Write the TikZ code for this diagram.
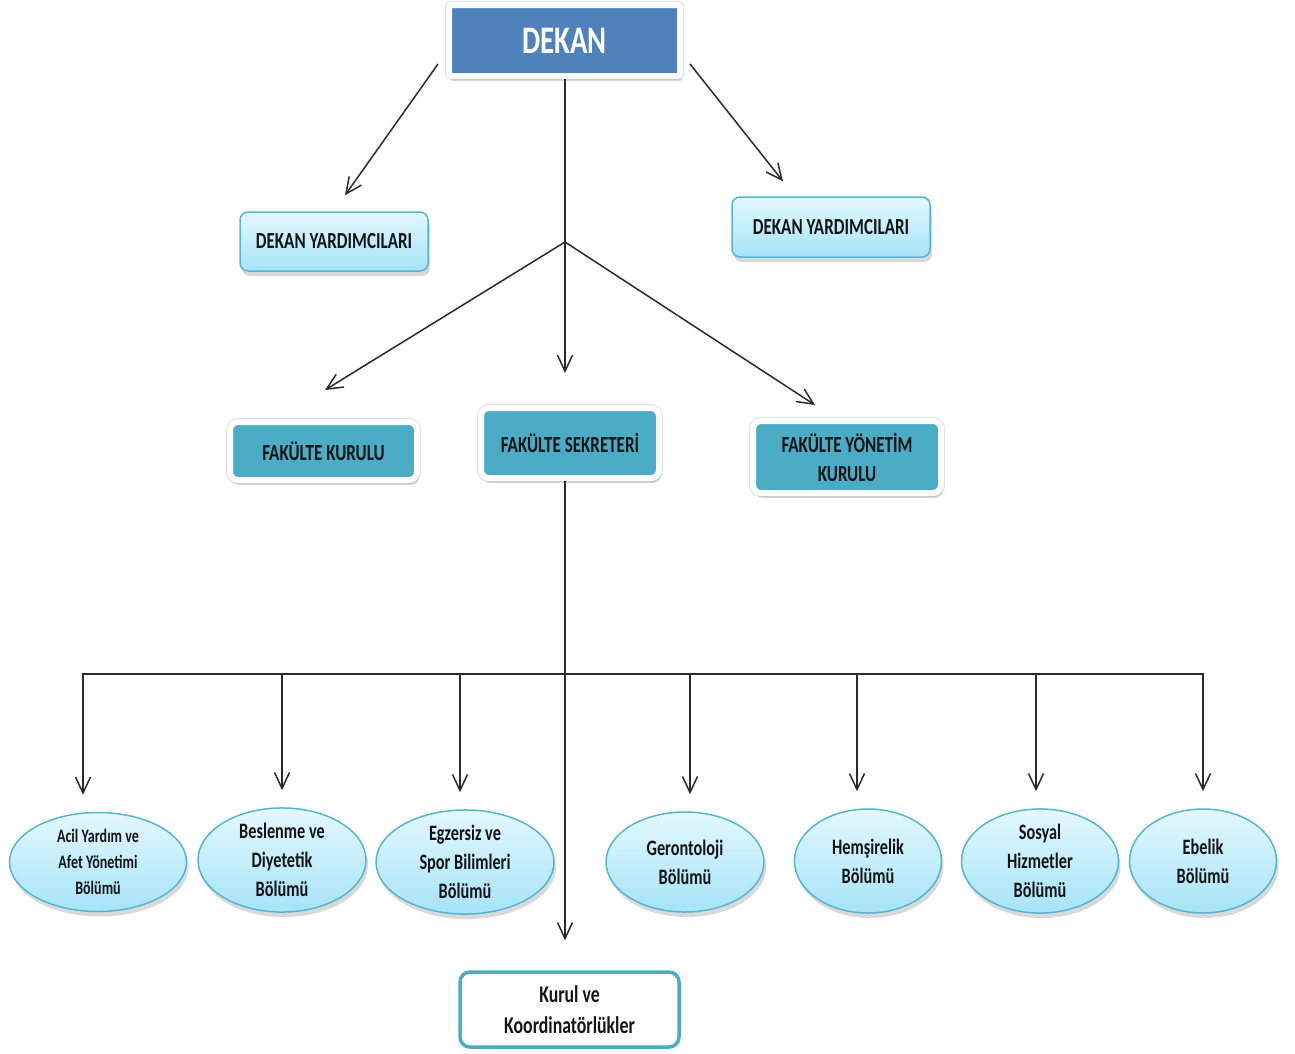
\documentclass[tikz,border=0pt]{standalone}
\usepackage{fontspec}
\setmainfont{Carlito}[FakeStretch=0.74]
\usetikzlibrary{shapes.geometric,arrows.meta,shadows,calc}

\definecolor{dekanblue}{HTML}{4F81BD}
\definecolor{tealfill}{HTML}{4BACC6}
\definecolor{paletop}{HTML}{E4F8FE}
\definecolor{palebot}{HTML}{A6E4F7}
\definecolor{paleedge}{HTML}{55B6D2}
\definecolor{linegray}{HTML}{2A2A2A}
\definecolor{textgray}{HTML}{141414}

\tikzset{
  arr/.style={-{Straight Barb[length=16pt,width=15pt]}, draw=linegray, line width=1.5pt},
  plain/.style={draw=linegray, line width=1.5pt},
  boxshadow/.style={drop shadow={shadow xshift=2pt, shadow yshift=-5pt, opacity=.3}},
  framed/.style={draw=white, line width=6pt, preaction={draw=black!12, line width=8pt}},
  dekanbox/.style={framed, fill=dekanblue, rounded corners=2pt,
    minimum width=231pt, minimum height=71pt, inner sep=0pt, text=white,
    font=\bfseries\fontsize{39}{39}\selectfont, boxshadow},
  tealbox/.style={framed, fill=tealfill, rounded corners=8pt,
    inner sep=0pt, align=center, text=textgray,
    font=\bfseries\fontsize{23}{29}\selectfont, boxshadow},
  palebox/.style={draw=paleedge, line width=1.5pt, top color=paletop, bottom color=palebot,
    rounded corners=8pt, inner sep=0pt, align=center, text=textgray,
    font=\bfseries\fontsize{23}{29}\selectfont, boxshadow},
  unit/.style={ellipse, draw=paleedge, line width=1.5pt, top color=paletop, bottom color=palebot,
    inner sep=0pt, align=center, text=textgray,
    font=\bfseries\fontsize{22}{29}\selectfont, boxshadow},
  kurulbox/.style={draw=tealfill, line width=3.5pt, fill=white, rounded corners=10pt,
    inner sep=0pt, align=center, text=textgray,
    font=\bfseries\fontsize{24}{31}\selectfont}
}

\begin{document}
\begin{tikzpicture}[x=1pt, y=-1pt]
  \useasboundingbox (0,0) rectangle (1295,1053);

  % top
  \node[dekanbox] (dekan) at (564.5,40.5) {DEKAN};
  \node[palebox, minimum width=188pt, minimum height=59pt] (yard1) at (334,241.5) {DEKAN YARDIMCILARI};
  \node[palebox, minimum width=198pt, minimum height=60pt] (yard2) at (831,227) {DEKAN YARDIMCILARI};

  % middle
  \node[tealbox, minimum width=187pt, minimum height=58pt] (kurul) at (323.5,451) {FAKÜLTE KURULU};
  \node[tealbox, minimum width=178pt, minimum height=70pt] (sekreter) at (570,443) {FAKÜLTE SEKRETERİ};
  \node[tealbox, minimum width=188pt, minimum height=72pt] (yonetim) at (847,457) {FAKÜLTE YÖNETİM\\KURULU};

  % units
  \node[unit, minimum width=177pt, minimum height=99pt, font=\bfseries\fontsize{19}{26}\selectfont] (acil) at (98,862) {Acil Yardım ve\\Afet Yönetimi\\Bölümü};
  \node[unit, minimum width=168pt, minimum height=104pt] (beslenme) at (282,860) {Beslenme ve\\Diyetetik\\Bölümü};
  \node[unit, minimum width=178pt, minimum height=100pt] (egzersiz) at (465,862) {Egzersiz ve\\Spor Bilimleri\\Bölümü};
  \node[unit, minimum width=158pt, minimum height=100pt] (geronto) at (685,862) {Gerontoloji\\Bölümü};
  \node[unit, minimum width=147pt, minimum height=104pt] (hemsire) at (868,861) {Hemşirelik\\Bölümü};
  \node[unit, minimum width=157pt, minimum height=104pt] (sosyal) at (1040,861) {Sosyal\\Hizmetler\\Bölümü};
  \node[unit, minimum width=147pt, minimum height=104pt] (ebelik) at (1203,861) {Ebelik\\Bölümü};

  \node[kurulbox, minimum width=219pt, minimum height=75pt] (koord) at (569.5,1009.5) {Kurul ve\\Koordinatörlükler};

  \coordinate (split) at (565,242);
  \coordinate (bus) at (565,674);
  \coordinate (d1) at (83,674);
  \coordinate (d2) at (282,674);
  \coordinate (d3) at (460,674);
  \coordinate (d4) at (690,674);
  \coordinate (d5) at (857,674);
  \coordinate (d6) at (1036,674);
  \coordinate (d7) at (1203,674);

  \begin{scope}[arr]
    \draw ($(dekan.south west)+(-8,-15)$) -- ($(yard1.north)+(11,-16)$);
    \draw ($(dekan.south east)+(7,-15)$) -- ($(yard2.north)+(-48,-15)$);
    \draw (split) -- ($(sekreter.north)+(-5,-32)$);
    \draw (split) -- ($(kurul.north)+(1.5,-29)$);
    \draw (split) -- ($(yonetim.north)+(-32,-13)$);
    \draw (bus) -- ($(koord.north)+(-4.5,-30)$);
    \foreach \drop/\unitname in {d1/acil, d2/beslenme, d3/egzersiz, d4/geronto, d5/hemsire, d6/sosyal, d7/ebelik}
      \draw (\drop) -- ([yshift=17pt]\drop |- \unitname.north);
  \end{scope}
  \draw[plain] (split |- dekan.south) -- (split);
  \draw[plain] (sekreter.south -| bus) -- (bus);
  \draw[plain, line cap=rect] (d1) -- (d7);
\end{tikzpicture}
\end{document}
